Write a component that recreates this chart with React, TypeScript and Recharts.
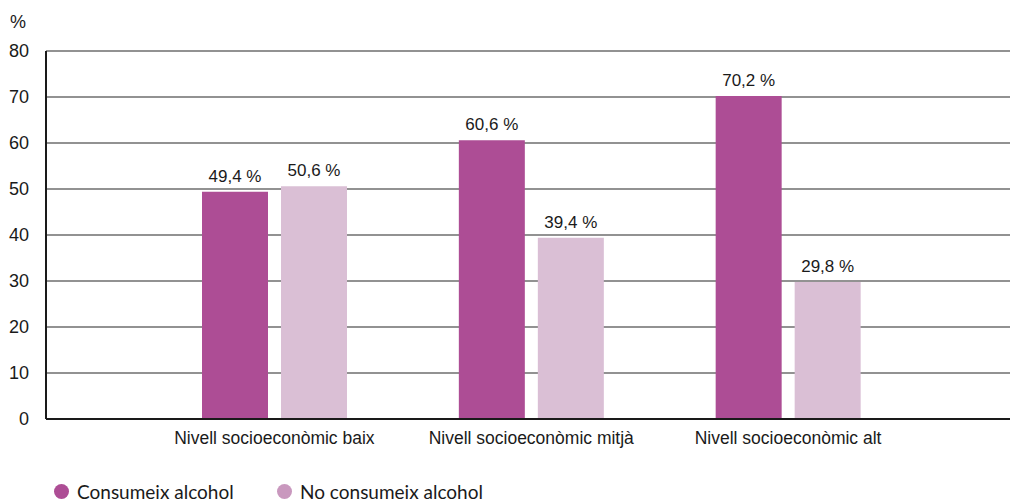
import React from 'react';
import { BarChart, Bar, XAxis, YAxis, CartesianGrid, LabelList } from 'recharts';

const categories = ['Nivell socioeconòmic baix', 'Nivell socioeconòmic mitjà', 'Nivell socioeconòmic alt'];
const consumeix = [49.4, 60.6, 70.2];
const noConsumeix = [50.6, 39.4, 29.8];
const yTicks = [0, 10, 20, 30, 40, 50, 60, 70, 80];
const seriesNames = ['Consumeix alcohol', 'No consumeix alcohol'];

const data = categories.map((c, i) => ({ name: c, a: consumeix[i], b: noConsumeix[i] }));

const fmt = (v: any) => `${String(v).replace('.', ',')} %`;
const FONT = '"Liberation Sans", Arial, sans-serif';

export default function App() {
  return (
    <div style={{ position: 'absolute', left: 0, top: 0, width: 1010, height: 502, background: '#fff', overflow: 'hidden' }}>
      <div style={{ position: 'absolute', left: 10, top: 12, fontFamily: FONT, fontSize: 18, color: '#1a1a1a' }}>%</div>
      <BarChart
        width={1010}
        height={502}
        data={data}
        margin={{ top: 51, right: 0, left: 0, bottom: 53 }}
        barSize={66}
        barGap={13}
      >
        <CartesianGrid vertical={false} stroke="#6e6e6e" strokeWidth={1.5} />
        <XAxis
          dataKey="name"
          height={30}
          padding={{ left: 100, right: 93.5 }}
          tickLine={false}
          tickSize={0}
          tickMargin={13}
          axisLine={{ stroke: '#1a1a1a', strokeWidth: 2 }}
          tick={{ fontFamily: FONT, fontSize: 17.5, fill: '#1a1a1a' }}
        />
        <YAxis
          width={46}
          domain={[0, 80]}
          ticks={yTicks}
          interval={0}
          tickLine={false}
          tickSize={0}
          tickMargin={17}
          axisLine={{ stroke: '#1a1a1a', strokeWidth: 2 }}
          tick={{ fontFamily: FONT, fontSize: 18, fill: '#1a1a1a' }}
        />
        <Bar dataKey="a" name={seriesNames[0]} fill="#ad4d95" isAnimationActive={false}>
          <LabelList dataKey="a" position="top" offset={10} formatter={fmt} style={{ fontFamily: FONT, fontSize: 17, fill: '#1a1a1a' }} />
        </Bar>
        <Bar dataKey="b" name={seriesNames[1]} fill="#dabfd5" isAnimationActive={false}>
          <LabelList dataKey="b" position="top" offset={10} formatter={fmt} style={{ fontFamily: FONT, fontSize: 17, fill: '#1a1a1a' }} />
        </Bar>
      </BarChart>
      <div style={{ position: 'absolute', left: 54, top: 480, display: 'flex', alignItems: 'center', fontFamily: 'Lato, sans-serif', fontSize: 19, color: '#1a1a1a', whiteSpace: 'nowrap' }}>
        <span style={{ width: 15, height: 15, borderRadius: '50%', background: '#ad4d95', display: 'inline-block', marginRight: 8 }} />
        <span style={{ width: 200 }}>{seriesNames[0]}</span>
        <span style={{ width: 15, height: 15, borderRadius: '50%', background: '#c998be', display: 'inline-block', marginRight: 8 }} />
        <span>{seriesNames[1]}</span>
      </div>
    </div>
  );
}
